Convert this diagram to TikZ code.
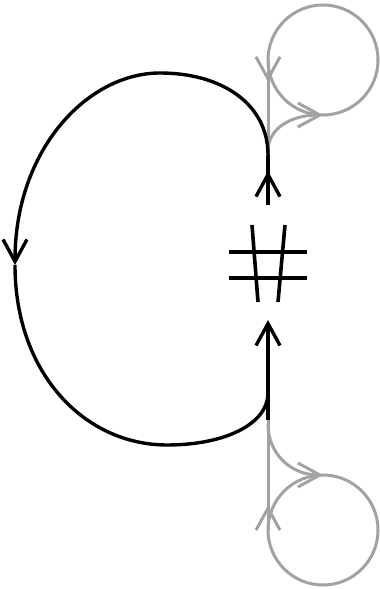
\documentclass[tikz,border=0pt]{standalone}
\usetikzlibrary{arrows.meta,decorations.markings}
\definecolor{ghostgray}{RGB}{162,162,162}
\tikzset{
  openv/.tip={Straight Barb[length=22pt,width=24pt]},
  strand/.style={
    draw=black,
    line width=3.4pt
  },
  ghoststrand/.style={
    draw=ghostgray,
    line width=3pt
  },
  hashline/.style={
    draw=black,
    line width=3.6pt
  },
  midarrow/.style={
    postaction={decorate},
    decoration={markings, mark=at position #1 with {\arrow{openv}}}
  }
}

\begin{document}
\begin{tikzpicture}[x=1pt,y=1pt]
        \useasboundingbox (0,0) rectangle (380,589);
        % upper loop
        \coordinate (topc) at (323,529);
        \coordinate (topl) at (268,529);
        \coordinate (topb) at (323,474);
        \coordinate (upj) at (268,434);
        \coordinate (upg) at (268,438);
        % lower loop
        \coordinate (botc) at (323,59);
        \coordinate (botl) at (268,59);
        \coordinate (bott) at (323,114);
        \coordinate (lowj) at (268,169);
        \coordinate (lowg) at (268,165);
        % black strand
        \coordinate (upstart) at (268,384);
        \coordinate (far) at (15,324);
        \coordinate (lowmeet) at (268,196);
        \coordinate (lowtip) at (268,269);
        \draw[ghoststrand] (topc) circle[radius=55pt];
        \draw[ghoststrand,midarrow=22pt] (topl) -- (upj);
        \draw[ghoststrand,-openv] (upg) .. controls (268,460) and (290,474) .. (topb);
        \draw[ghoststrand] (botc) circle[radius=55pt];
        \draw[ghoststrand,midarrow=25pt] (botl) -- (lowj);
        \draw[ghoststrand,-openv] (lowg) .. controls (268,136) and (290,114) .. (bott);
        \draw[strand,midarrow=34pt] (upstart) -- (upj);
        \draw[strand,-openv] (upj) .. controls (268,485) and (222,516) .. (160,516)
            .. controls (88,516) and (15,440) .. (far);
        \draw[strand] (far) .. controls (15,215) and (85,144) .. (167,144)
            .. controls (225,144) and (268,165) .. (lowmeet);
        \draw[strand,-openv] (lowj) -- (lowtip);
        % the hash
        \draw[hashline] (229,337) -- (307,337);
        \draw[hashline] (229,311) -- (307,311);
        \draw[hashline] (252,364) -- (258,287);
        \draw[hashline] (285,364) -- (278,287);
\end{tikzpicture}
\end{document}
